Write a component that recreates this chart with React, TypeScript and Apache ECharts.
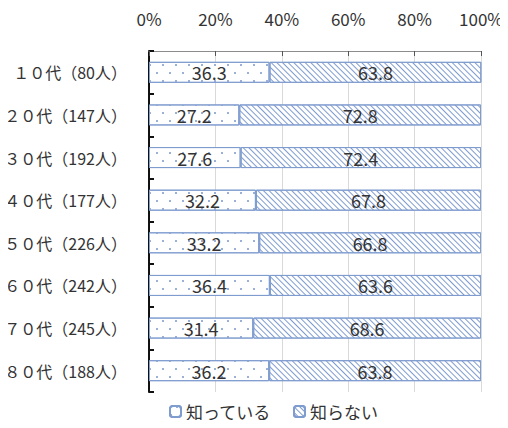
import React, { useEffect, useRef } from "react";
import * as echarts from "echarts";

const categories = [
  "１０代（80人）",
  "２０代（147人）",
  "３０代（192人）",
  "４０代（177人）",
  "５０代（226人）",
  "６０代（242人）",
  "７０代（245人）",
  "８０代（188人）",
];
const known = [36.3, 27.2, 27.6, 32.2, 33.2, 36.4, 31.4, 36.2];
const unknown = [63.8, 72.8, 72.4, 67.8, 66.8, 63.6, 68.6, 63.8];
const seriesNames = ["知っている", "知らない"];
const xTicks = [0, 20, 40, 60, 80, 100];

const FONT = "'Noto Sans CJK JP', 'Noto Sans', sans-serif";
const BLUE = "#7f9ccf";

export default function App() {
  const ref = useRef<HTMLDivElement>(null);
  useEffect(() => {
    if (!ref.current) return;
    const chart = echarts.init(ref.current, undefined, { renderer: "svg" });
    chart.setOption({
      animation: false,
      grid: {
        left: 149,
        right: 27,
        top: 51,
        bottom: 36,
        containLabel: false,
        outerBoundsMode: "none",
      },
      legend: {
        bottom: 3,
        left: 164,
        itemWidth: 11,
        itemHeight: 11,
        itemGap: 22,
        textStyle: { fontFamily: FONT, fontSize: 17, color: "#333" },
        data: seriesNames,
      },
      xAxis: {
        type: "value",
        position: "top",
        min: 0,
        max: 100,
        interval: 20,
        axisLine: { show: true, lineStyle: { color: "#8c8c8c", width: 1 } },
        axisTick: { show: true, inside: true, length: 5, lineStyle: { color: "#555" } },
        splitLine: { show: true, lineStyle: { color: "#d9d9d9" } },
        axisLabel: {
          formatter: (v: number) => (xTicks.includes(v) ? v + "%" : ""),
          fontFamily: FONT,
          fontSize: 17,
          color: "#333",
          margin: 24,
        },
      },
      yAxis: {
        type: "category",
        inverse: true,
        data: categories,
        axisLine: { show: true, lineStyle: { color: "#111", width: 2 } },
        axisTick: { show: true, inside: true, length: 5, lineStyle: { color: "#111", width: 2 } },
        axisLabel: { fontFamily: FONT, fontSize: 16, color: "#333", margin: 22 },
      },
      series: [
        {
          name: seriesNames[0],
          type: "bar",
          stack: "a",
          barWidth: 21,
          data: known,
          itemStyle: {
            color: "#ffffff",
            borderColor: BLUE,
            borderWidth: 1,
            decal: {
              symbol: "rect",
              symbolSize: 1,
              color: "#9ab0d6",
              dashArrayX: [
                [1.5, 10.5],
                [0, 6, 1.5, 4.5],
              ],
              dashArrayY: [1.5, 5.5],
              rotation: 0,
            },
          },
          label: {
            show: true,
            position: "inside",
            fontFamily: FONT,
            fontSize: 18,
            color: "#333",
            formatter: (p: any) => p.value.toFixed(1),
          },
        },
        {
          name: seriesNames[1],
          type: "bar",
          stack: "a",
          barWidth: 21,
          data: unknown,
          itemStyle: {
            color: "#ffffff",
            borderColor: BLUE,
            borderWidth: 1,
            decal: {
              symbol: "rect",
              symbolSize: 1,
              color: "#7f9ccf",
              dashArrayX: [[1, 0]],
              dashArrayY: [1, 2.5],
              rotation: Math.PI / 4,
            },
          },
          label: {
            show: true,
            position: "inside",
            fontFamily: FONT,
            fontSize: 18,
            color: "#333",
            formatter: (p: any) => p.value.toFixed(1),
          },
        },
      ],
    });
    return () => chart.dispose();
  }, []);
  return <div ref={ref} style={{ width: 508, height: 428, margin: -8 }} />;
}
